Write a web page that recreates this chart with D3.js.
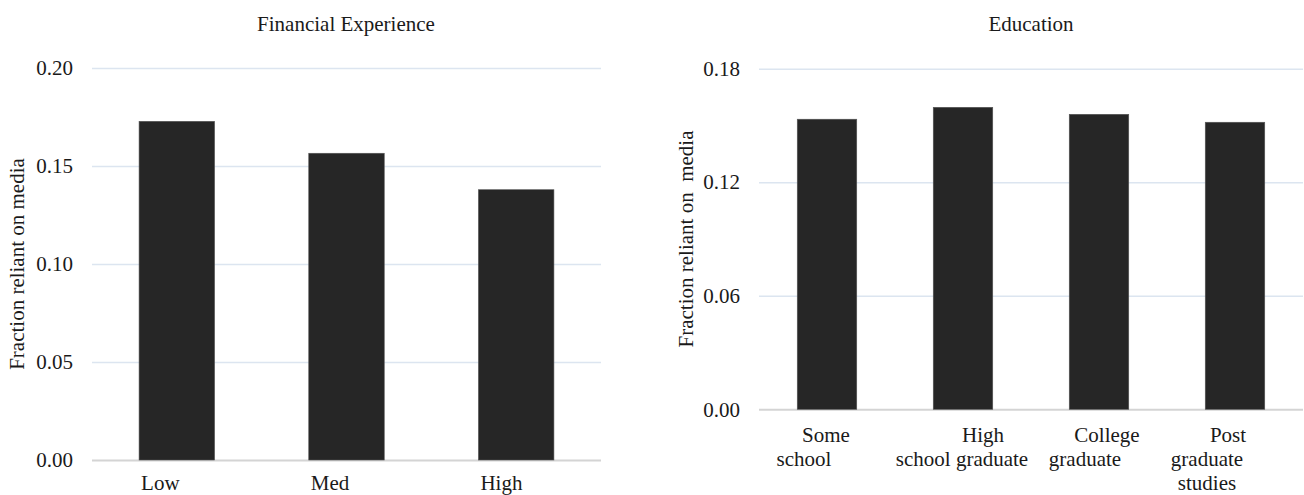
<!DOCTYPE html>
<html><head><meta charset="utf-8">
<script src="https://cdn.jsdelivr.net/npm/d3@7"></script>
<style>body{margin:0;background:#fff}svg{display:block}text{font-family:'Liberation Serif','Times New Roman',serif !important}</style>
</head><body><svg id="c" width="1304" height="495"></svg>
<script>
const finCategories = ["Low","Med","High"];
const finValues = [0.1728, 0.1565, 0.1379];
const finTicks = [0, 0.05, 0.10, 0.15, 0.20];

const eduCategories = ["Some school","High school graduate","College graduate","Post graduate studies"];
const eduLabelLines = [["Some","school"],["High","school graduate"],["College","graduate"],["Post","graduate","studies"]];
const eduValues = [0.1533, 0.1596, 0.1559, 0.1517];
const eduTicks = [0, 0.06, 0.12, 0.18];

// layout-only: horizontal shift of each wrapped label line (px)
const eduLineShift = [[-1,-23],[20,-1],[8,-14],[-7,-28,-28]];

const svg = d3.select("#c");
const FS = 21;
const FF = "'Liberation Serif','Times New Roman',serif";
const gridColor = "#dce5f0", baseColor = "#d4d4d4", barColor = "#262626", textColor = "#1a1a1a";

function panel(cfg){
  const g = svg.append("g").attr("font-family",FF);
  const x = d3.scaleBand().domain(cfg.cats).range(cfg.xr).paddingInner(cfg.pi).paddingOuter(cfg.pi/2);
  const y = d3.scaleLinear().domain([0, cfg.ymax]).range(cfg.yr);
  const ax = d3.axisLeft(y).tickValues(cfg.ticks).tickFormat(d3.format(".2f")).tickSize(-(cfg.xr[1]-cfg.xr[0])).tickPadding(19);
  const ag = g.append("g").attr("transform",`translate(${cfg.xr[0]},0)`).call(ax).attr("font-family",FF);
  ag.select(".domain").remove();
  ag.selectAll(".tick line").attr("stroke", d => d===0 ? baseColor : gridColor).attr("stroke-width", d => d===0 ? 2 : 1.5);
  ag.selectAll(".tick text").attr("font-size",FS).attr("fill",textColor).attr("font-family",FF);
  g.selectAll("rect.bar").data(cfg.vals).join("rect").attr("class","bar")
    .attr("x",(d,i)=>x(cfg.cats[i])).attr("width",x.bandwidth())
    .attr("y",d=>y(d)).attr("height",d=>y(0)-y(d))
    .attr("fill",barColor).attr("stroke","#555").attr("stroke-width",0.6);
  g.append("text").attr("x",cfg.titleX).attr("y",31).attr("text-anchor","middle")
    .attr("font-size",FS).attr("font-family",FF).attr("fill",textColor).text(cfg.title);
  g.append("text").attr("transform",`translate(${cfg.ytX},${(cfg.yr[0]+cfg.yr[1])/2}) rotate(-90)`)
    .attr("text-anchor","middle").attr("font-size",FS).attr("font-family",FF).attr("fill",textColor)
    .attr("dy","0.35em").style("white-space","pre").text(cfg.ytitle);
  return {x,y,g};
}

const L = panel({cats:finCategories, vals:finValues, ticks:finTicks, ymax:0.20,
  xr:[92,601], yr:[460,68], pi:0.555, title:"Financial Experience", titleX:346,
  ytitle:"Fraction reliant on media", ytX:17});
L.g.selectAll("text.xl").data(finCategories).join("text").attr("class","xl")
  .attr("x",d=>L.x(d)+2).attr("y",490).attr("font-size",FS).attr("font-family",FF).attr("fill",textColor).text(d=>d);

const R = panel({cats:eduCategories, vals:eduValues, ticks:eduTicks, ymax:0.18,
  xr:[759,1303], yr:[409.3,68.7], pi:0.5625, title:"Education", titleX:1031,
  ytitle:"Fraction reliant on  media", ytX:686});
eduCategories.forEach((c,i)=>{
  const cx = R.x(c) + R.x.bandwidth()/2;
  eduLabelLines[i].forEach((ln,j)=>{
    R.g.append("text").attr("x",cx+eduLineShift[i][j]).attr("y",441.7+24*j)
      .attr("text-anchor","middle").attr("font-size",FS).attr("font-family",FF).attr("fill",textColor).text(ln);
  });
});
</script></body></html>
